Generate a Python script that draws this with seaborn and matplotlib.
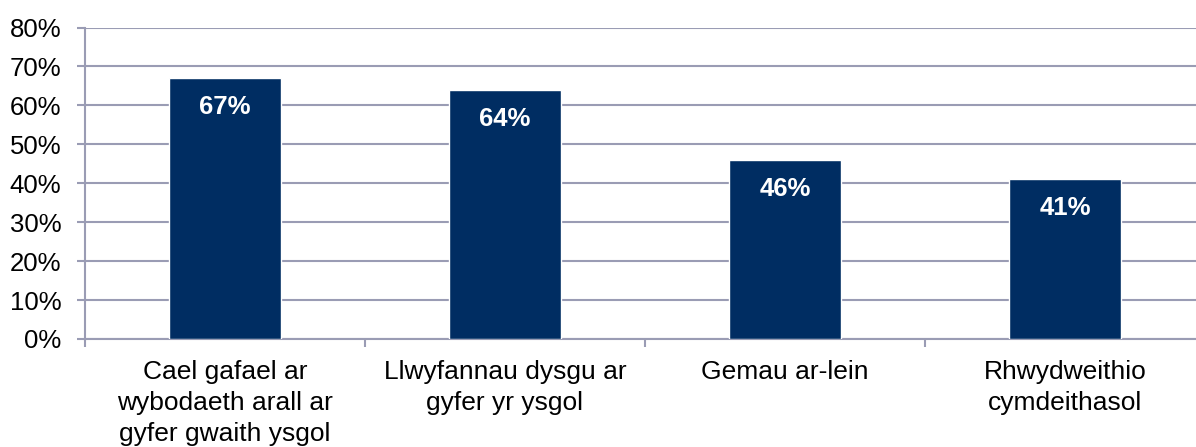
import matplotlib
matplotlib.use("Agg")
import matplotlib.pyplot as plt
import seaborn as sns
import pandas as pd
from matplotlib.ticker import FixedLocator, PercentFormatter

categories = [
    "Cael gafael ar\nwybodaeth arall ar\ngyfer gwaith ysgol",
    "Llwyfannau dysgu ar\ngyfer yr ysgol",
    "Gemau ar-lein",
    "Rhwydweithio\ncymdeithasol",
]
values = [67, 64, 46, 41]
value_labels = ["67%", "64%", "46%", "41%"]
y_ticks = [0, 10, 20, 30, 40, 50, 60, 70, 80]

bar_color = "#002D62"
grid_color = "#9A9CB4"

sns.set_theme(style="white")
plt.rcParams["font.family"] = ["Liberation Sans", "DejaVu Sans"]

df = pd.DataFrame({"category": categories, "value": values})

fig = plt.figure(figsize=(11.96, 4.47), dpi=100)
ax = fig.add_axes([85 / 1196, 1 - 339 / 447, 1120 / 1196, 311.5 / 447])

sns.barplot(data=df, x="category", y="value", color=bar_color, width=0.4,
            saturation=1, ax=ax, zorder=3)

ax.set_xlim(-0.5, 3.5)
ax.set_ylim(0, 80)
ax.set_yticks(y_ticks)
ax.yaxis.set_major_formatter(PercentFormatter(decimals=0))
ax.yaxis.grid(True, color=grid_color, linewidth=1.5, zorder=0)
ax.set_axisbelow(True)

for side in ["top", "right"]:
    ax.spines[side].set_visible(False)
for side in ["left", "bottom"]:
    ax.spines[side].set_color(grid_color)
    ax.spines[side].set_linewidth(1.5)

ax.tick_params(axis="y", which="major", direction="out", length=6, width=1.5,
               color=grid_color, labelsize=18.5, pad=11, left=True, labelcolor="black")
ax.tick_params(axis="x", which="major", length=0, labelsize=19, pad=15, labelcolor="black")
ax.xaxis.set_minor_locator(FixedLocator([-0.5, 0.5, 1.5, 2.5, 3.5]))
ax.tick_params(axis="x", which="minor", direction="out", length=6, width=1.5,
               color=grid_color, bottom=True)
for lbl in ax.get_xticklabels():
    lbl.set_linespacing(1.37)

for i, (v, txt) in enumerate(zip(values, value_labels)):
    ax.text(i, v - 7.4, txt, ha="center", va="center", color="white",
            fontsize=18.5, fontweight="bold", zorder=4)

ax.set_xlabel("")
ax.set_ylabel("")

fig.savefig("out.png", dpi=100)
